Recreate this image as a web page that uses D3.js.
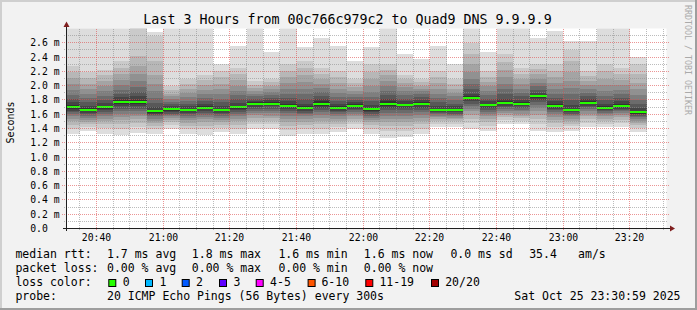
<!DOCTYPE html>
<html><head><meta charset="utf-8">
<script src="https://cdn.jsdelivr.net/npm/d3@7"></script>
<style>
body{margin:0;background:#f2f2f2;}
svg{display:block;}
text{font-family:"DejaVu Sans Mono",monospace;}
</style>
</head><body>
<svg id="c" width="697" height="310"></svg>
<script>
// ---- data ----
const slotEnds = ["20:35","20:40","20:45","20:50","20:55","21:00","21:05","21:10","21:15","21:20",
  "21:25","21:30","21:35","21:40","21:45","21:50","21:55","22:00","22:05","22:10",
  "22:15","22:20","22:25","22:30","22:35","22:40","22:45","22:50","22:55","23:00",
  "23:05","23:10","23:15","23:20","23:25"];
const medians = [1.70,1.66,1.70,1.77,1.77,1.64,1.67,1.66,1.69,1.66,1.70,1.75,1.75,1.72,1.69,1.75,1.69,1.72,1.67,1.75,
  1.73,1.75,1.66,1.66,1.83,1.73,1.76,1.75,1.85,1.72,1.66,1.76,1.69,1.72,1.63];
const pings = [
 [1.33,1.40,1.45,1.50,1.53,1.57,1.60,1.63,1.65,1.67,1.73,1.77,1.82,1.87,1.94,2.02,2.11,2.19,2.28,2.95],
 [1.36,1.42,1.46,1.49,1.52,1.55,1.58,1.60,1.62,1.64,1.69,1.72,1.77,1.83,1.89,1.95,2.03,2.11,2.19,2.95],
 [1.33,1.41,1.46,1.50,1.54,1.57,1.60,1.63,1.66,1.68,1.72,1.76,1.80,1.86,1.92,1.99,2.07,2.15,2.22,2.95],
 [1.31,1.40,1.46,1.52,1.56,1.60,1.64,1.68,1.71,1.74,1.80,1.84,1.89,1.94,2.01,2.08,2.16,2.25,2.34,2.95],
 [1.34,1.42,1.48,1.53,1.57,1.61,1.65,1.68,1.71,1.74,1.80,1.85,1.91,1.98,2.06,2.16,2.28,2.42,2.90,3.00],
 [1.33,1.40,1.44,1.48,1.51,1.54,1.57,1.59,1.61,1.62,1.66,1.70,1.76,1.83,1.92,2.02,2.15,2.35,2.70,2.75],
 [1.40,1.45,1.49,1.52,1.55,1.57,1.59,1.61,1.63,1.65,1.69,1.71,1.74,1.77,1.81,1.85,1.89,1.94,1.99,2.95],
 [1.33,1.40,1.44,1.48,1.52,1.55,1.58,1.60,1.62,1.64,1.68,1.71,1.75,1.79,1.84,1.90,1.96,2.03,2.10,2.95],
 [1.31,1.39,1.44,1.49,1.53,1.56,1.59,1.62,1.65,1.67,1.71,1.75,1.79,1.83,1.88,1.94,2.01,2.08,2.15,2.95],
 [1.35,1.41,1.45,1.49,1.52,1.55,1.58,1.60,1.62,1.64,1.68,1.72,1.77,1.82,1.88,1.95,2.03,2.12,2.21,2.31],
 [1.33,1.40,1.45,1.50,1.54,1.57,1.60,1.63,1.66,1.68,1.72,1.76,1.81,1.87,1.93,2.00,2.08,2.16,2.25,2.56],
 [1.40,1.47,1.51,1.55,1.59,1.62,1.65,1.68,1.70,1.73,1.77,1.79,1.82,1.85,1.89,1.93,1.97,2.01,2.06,2.95],
 [1.40,1.46,1.51,1.55,1.58,1.62,1.65,1.68,1.71,1.73,1.77,1.80,1.83,1.87,1.91,1.95,2.00,2.05,2.10,2.47],
 [1.30,1.38,1.44,1.49,1.54,1.58,1.62,1.65,1.68,1.70,1.74,1.78,1.83,1.89,1.96,2.04,2.12,2.21,2.30,2.95],
 [1.32,1.40,1.45,1.49,1.53,1.57,1.60,1.62,1.65,1.67,1.71,1.75,1.81,1.88,1.96,2.05,2.15,2.25,2.35,2.54],
 [1.32,1.40,1.46,1.51,1.55,1.59,1.63,1.66,1.69,1.72,1.78,1.81,1.86,1.91,1.97,2.03,2.10,2.17,2.25,2.67],
 [1.35,1.42,1.47,1.51,1.54,1.57,1.60,1.63,1.65,1.67,1.71,1.74,1.79,1.84,1.90,1.96,2.04,2.12,2.20,2.56],
 [1.40,1.46,1.50,1.54,1.57,1.60,1.63,1.66,1.68,1.70,1.74,1.77,1.80,1.84,1.88,1.93,1.98,2.04,2.10,2.35],
 [1.33,1.40,1.45,1.49,1.52,1.55,1.58,1.61,1.63,1.65,1.69,1.73,1.78,1.84,1.91,1.99,2.09,2.19,2.30,2.54],
 [1.27,1.36,1.43,1.49,1.54,1.58,1.62,1.66,1.69,1.72,1.78,1.82,1.87,1.93,2.00,2.07,2.15,2.22,2.30,2.95],
 [1.28,1.37,1.44,1.49,1.54,1.58,1.62,1.66,1.69,1.71,1.75,1.78,1.82,1.87,1.92,1.98,2.04,2.10,2.15,2.45],
 [1.32,1.40,1.46,1.51,1.55,1.59,1.63,1.66,1.69,1.73,1.77,1.80,1.84,1.88,1.92,1.96,2.00,2.05,2.10,2.37],
 [1.42,1.47,1.50,1.53,1.56,1.58,1.60,1.62,1.63,1.64,1.68,1.72,1.77,1.83,1.89,1.96,2.04,2.12,2.20,2.56],
 [1.42,1.47,1.50,1.53,1.55,1.57,1.59,1.61,1.63,1.64,1.68,1.71,1.75,1.80,1.85,1.90,1.96,2.03,2.10,2.30],
 [1.40,1.48,1.54,1.59,1.64,1.68,1.72,1.75,1.78,1.81,1.85,1.89,1.95,2.02,2.10,2.19,2.30,2.44,2.60,2.95],
 [1.37,1.44,1.49,1.53,1.57,1.60,1.63,1.66,1.69,1.71,1.75,1.78,1.82,1.87,1.93,1.99,2.05,2.12,2.20,2.47],
 [1.47,1.52,1.56,1.59,1.62,1.65,1.67,1.70,1.72,1.74,1.78,1.82,1.88,1.95,2.03,2.12,2.22,2.33,2.45,2.95],
 [1.46,1.51,1.55,1.58,1.61,1.64,1.66,1.69,1.71,1.73,1.77,1.80,1.85,1.90,1.96,2.02,2.09,2.17,2.25,2.95],
 [1.37,1.46,1.53,1.59,1.64,1.69,1.73,1.77,1.80,1.83,1.87,1.90,1.94,1.99,2.04,2.10,2.16,2.23,2.30,2.67],
 [1.35,1.42,1.48,1.52,1.56,1.60,1.63,1.66,1.68,1.70,1.74,1.78,1.83,1.89,1.96,2.04,2.12,2.21,2.30,2.77],
 [1.37,1.43,1.47,1.51,1.54,1.57,1.59,1.61,1.63,1.64,1.68,1.73,1.80,1.88,1.97,2.07,2.19,2.34,2.50,2.62],
 [1.42,1.48,1.53,1.57,1.61,1.64,1.67,1.70,1.72,1.74,1.78,1.81,1.85,1.90,1.95,2.01,2.07,2.13,2.20,2.63],
 [1.42,1.47,1.51,1.54,1.57,1.60,1.62,1.64,1.66,1.67,1.71,1.75,1.80,1.86,1.93,2.01,2.10,2.20,2.30,2.95],
 [1.42,1.48,1.52,1.56,1.59,1.62,1.64,1.66,1.68,1.70,1.74,1.78,1.83,1.88,1.94,2.01,2.08,2.16,2.25,2.95],
 [1.35,1.41,1.45,1.48,1.51,1.54,1.56,1.58,1.60,1.61,1.65,1.69,1.74,1.80,1.87,1.95,2.04,2.17,2.30,2.40]
];
const yTickValues = [0,0.2,0.4,0.6,0.8,1.0,1.2,1.4,1.6,1.8,2.0,2.2,2.4,2.6];
const yTickLabels = ["0.0","0.2 m","0.4 m","0.6 m","0.8 m","1.0 m","1.2 m","1.4 m","1.6 m","1.8 m","2.0 m","2.2 m","2.4 m","2.6 m"];
const xTickLabels = ["20:40","21:00","21:20","21:40","22:00","22:20","22:40","23:00","23:20"];
const lossLabels = ["0","1","2","3","4-5","6-10","11-19","20/20"];
const lossColors = ["#26ff00","#00b8ff","#0059ff","#5e00ff","#ff00ff","#ff5500","#ff0000","#a10000"];
const titleText = "Last 3 Hours from 00c766c979c2 to Quad9 DNS 9.9.9.9";

// ---- scales ----
const pt = d3.timeParse("%H:%M:%S");
const t0 = pt("20:30:59"), t1 = pt("23:30:59");
const x = d3.scaleTime().domain([t0, t1]).range([66.5, 666.5]);
const y = d3.scaleLinear().domain([0, 2.8]).range([228.5, 28.5]);
const svg = d3.select("#c");

// background + border
svg.append("rect").attr("width",697).attr("height",310).attr("fill","#f2f2f2");
svg.append("rect").attr("x",0).attr("y",0).attr("width",697).attr("height",2).attr("fill","#cfcfcf");
svg.append("rect").attr("x",0).attr("y",0).attr("width",2).attr("height",310).attr("fill","#cfcfcf");
svg.append("rect").attr("x",0).attr("y",308).attr("width",697).attr("height",2).attr("fill","#9e9e9e");
svg.append("rect").attr("x",695).attr("y",0).attr("width",2).attr("height",310).attr("fill","#9e9e9e");

// canvas
svg.append("rect").attr("x",x.range()[0]).attr("y",y(2.8)).attr("width",x.range()[1]-x.range()[0])
  .attr("height",y(0)-y(2.8)).attr("fill","#ffffff");
svg.append("clipPath").attr("id","cp").append("rect")
  .attr("x",x.range()[0]).attr("y",y(2.8)).attr("width",x.range()[1]-x.range()[0]).attr("height",y(0)-y(2.8));

const plot = svg.append("g").attr("clip-path","url(#cp)").attr("shape-rendering","crispEdges");
slotEnds.forEach((s, i) => {
  const e = pt(s + ":00");
  const st = new Date(e.getTime() - 300000);
  const xa = Math.max(x(st), x.range()[0]), xb = x(e);
  const p = pings[i];
  for (let k = 0; k < 10; k++) {
    const c = Math.floor(190/10*(10-(k+1))) + 50;
    const hex = d3.rgb(c,c,c).formatHex();
    plot.append("rect").attr("x",xa).attr("width",xb-xa)
      .attr("y",y(p[19-k])).attr("height",y(p[k])-y(p[19-k])).attr("fill",hex);
  }
  plot.append("rect").attr("x",xa).attr("width",xb-xa)
    .attr("y",y(medians[i])-1).attr("height",2).attr("fill",lossColors[0]);
});

// grid
const grid = svg.append("g").attr("fill","none").attr("shape-rendering","crispEdges");
const minorCol = "rgba(143,143,143,0.6)", majorCol = "rgba(222,79,79,0.6)";
for (let v = 1; v <= 27; v++) {
  const val = v/10;
  const yy = Math.floor(y(val)) + 0.5;
  const major = v % 2 === 0;
  grid.append("line").attr("x1", major ? 62 : 64).attr("x2", major ? 670 : 668)
    .attr("y1",yy).attr("y2",yy).attr("stroke", major ? majorCol : minorCol)
    .attr("stroke-dasharray","1,1");
}
const ticks5 = d3.timeMinute.every(5).range(t0, t1);
ticks5.forEach(tk => {
  const major = tk.getMinutes() % 20 === 0;
  const xx = Math.floor(x(tk)) + 0.5;
  grid.append("line").attr("x1",xx).attr("x2",xx).attr("y1", y(2.8)).attr("y2", major ? 231 : 230)
    .attr("stroke", major ? majorCol : minorCol).attr("stroke-dasharray","1,1");
});

// axes
svg.append("line").attr("x1",63).attr("x2",670).attr("y1",228.5).attr("y2",228.5).attr("stroke","#1f1f1f");
svg.append("line").attr("x1",66.5).attr("x2",66.5).attr("y1",231).attr("y2",25).attr("stroke","#1f1f1f");
svg.append("polygon").attr("points","670,225.5 670,231.5 675,228.5").attr("fill","#801f1f");
svg.append("polygon").attr("points","63.5,27 69.5,27 66.5,21.5").attr("fill","#801f1f");

// y labels
yTickValues.forEach((v,i) => {
  svg.append("text").attr("x",30.2).attr("y",y(v)).attr("dominant-baseline","central")
    .attr("font-size","9.75px").attr("fill","#000").text(yTickLabels[i]);
});
// x labels
xTickLabels.forEach(l => {
  svg.append("text").attr("x", Math.floor(x(pt(l+":00")))+0.5).attr("y",237.5).attr("text-anchor","middle")
    .attr("dominant-baseline","central").attr("font-size","9.75px").attr("fill","#000").text(l);
});

// title
svg.append("text").attr("x",347.5).attr("y",19).attr("text-anchor","middle").attr("dominant-baseline","central")
  .attr("font-size","13.3px").attr("fill","#000").text(titleText);
// unit
svg.append("text").attr("transform","translate(10,122.5) rotate(-90)").attr("text-anchor","middle")
  .attr("dominant-baseline","central").attr("font-size","10px").attr("fill","#000").text("Seconds");
// watermark
svg.append("text").attr("transform","translate(687.5,5) rotate(90)").attr("text-anchor","start")
  .attr("dominant-baseline","central").attr("font-size","8.3px").attr("fill","#aaaaaa").text("RRDTOOL / TOBI OETIKER");

// legend
const lg = svg.append("g").attr("font-size","11.5px").attr("fill","#000");
const rows = [
  [[16,"median rtt:"],[107.6,"1.7 ms avg"],[192.4,"1.8 ms max"],[279,"1.6 ms min"],[364.4,"1.6 ms now"],[451,"0.0 ms sd"],[529.8,"35.4"],[578.7,"am/s"]],
  [[16,"packet loss:"],[107.6,"0.00 % avg"],[192.4,"0.00 % max"],[279,"0.00 % min"],[364.4,"0.00 % now"]],
  [[16,"loss color:"]],
  [[16,"probe:"],[107.6,"20 ICMP Echo Pings (56 Bytes) every 300s"]]
];
const rowY = [254.3,268.3,282.3,296.2];
rows.forEach((r,ri) => r.forEach(([xx,tx]) => {
  lg.append("text").attr("x",xx-0.6).attr("y",rowY[ri]).attr("dominant-baseline","central").text(tx);
}));
lg.append("text").attr("x",680.5).attr("y",rowY[3]).attr("text-anchor","end").attr("dominant-baseline","central")
  .text("Sat Oct 25 23:30:59 2025");
const boxX = [108.3,145,181.7,219,255.7,307.6,365.3,431];
const labX = [123.3,160,196.7,234,270.7,322,380,445.8];
lossLabels.forEach((l,i) => {
  lg.append("rect").attr("x",boxX[i]+0.5).attr("y",279.5).attr("width",7).attr("height",7)
    .attr("fill",lossColors[i]).attr("stroke","#000").attr("stroke-width",1);
  lg.append("text").attr("x",labX[i]-0.6).attr("y",rowY[2]).attr("dominant-baseline","central").text(l);
});
</script>
</body></html>
